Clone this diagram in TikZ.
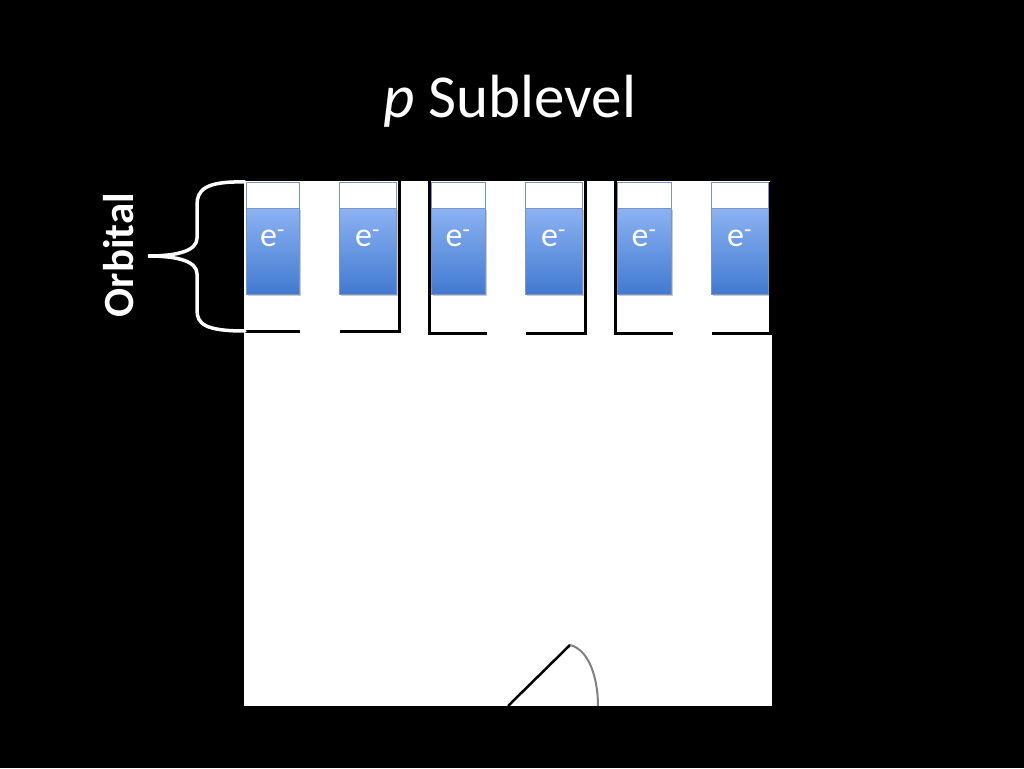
\documentclass[tikz,border=0pt]{standalone}
\usepackage{fontspec}
\setmainfont{Carlito}
\begin{document}
\begin{tikzpicture}[x=1pt,y=-1pt,
  wall/.style={line width=3pt,black},
  ebox/.style={draw={rgb,255:red,120;green,150;blue,190},line width=0.8pt},
  efill/.style={top color={rgb,255:red,140;green,178;blue,242},bottom color={rgb,255:red,66;green,122;blue,208}},
  etext/.style={text=white,font=\fontsize{34}{36}\selectfont,anchor=center}]
\fill[black] (0,0) rectangle (1024,768);
\useasboundingbox (0,0) rectangle (1024,768);
% white floor
\fill[white] (244,181) rectangle (770,333);
\fill[white] (244,333) rectangle (772,706);
% electron boxes
\foreach \i/\a/\b in {1/246/299,2/339/396,3/431/485,4/525/582,5/617/671,6/711/768}{
  \fill[black!20] (\a+2,210) rectangle (\b+2,296);
  \fill[efill] (\a,208) rectangle (\b,294);
  \draw[ebox] (\a,182) rectangle (\b,294);
  \draw[ebox] (\a,208) -- (\b,208);
  \node[etext] (e\i) at ({(\a+\b)/2},238) {e\textsuperscript{-}};
}
% walls
\draw[wall] (244,331) -- (300,331);
\draw[wall] (340,331) -- (399,331) -- (399,180);
\draw[wall] (429,180) -- (429,333) -- (487,333);
\draw[wall] (526,333) -- (585,333) -- (585,180);
\draw[wall] (615,180) -- (615,333) -- (673,333);
\draw[wall] (712,333) -- (770,333) -- (770,182);
% door
\draw[line width=2.5pt,black] (508,706) -- (570,645);
\draw[line width=2pt,black!50] (570,645) .. controls (590,650) and (598,680) .. (598,706);
% brace
\draw[white,line width=3.5pt,line cap=round]
  (245,182) .. controls (205,181) and (197,190) .. (197,205) -- (197,238)
  .. controls (197,250) and (180,256) .. (148,256)
  .. controls (180,256) and (197,262) .. (197,274) -- (197,310)
  .. controls (197,324) and (205,331) .. (245,331);
\node[text=white,rotate=90,font=\bfseries\fontsize{43}{45}\selectfont,anchor=center] (orb) at (119,255) {Orbital};
% title
\node[text=white,font=\fontsize{61}{63}\selectfont,anchor=center] (title) at (510,101) {\textit{p} Sublevel};
\end{tikzpicture}
\end{document}
